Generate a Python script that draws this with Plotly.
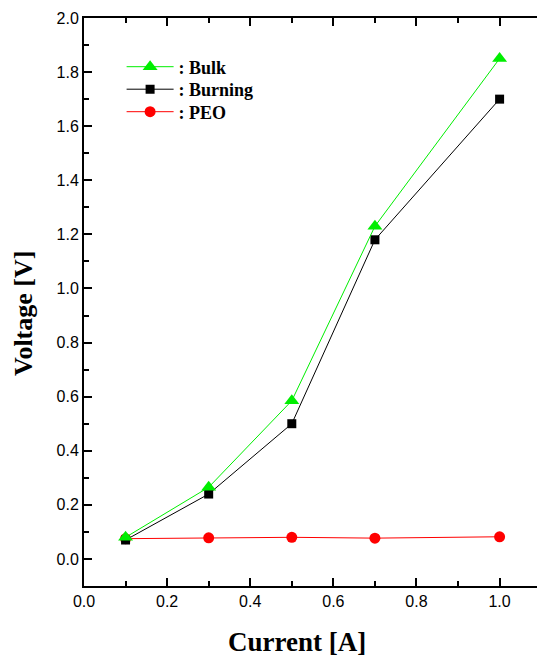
import plotly.graph_objects as go

current = [0.1, 0.3, 0.5, 0.7, 1.0]
bulk = [0.08, 0.265, 0.585, 1.23, 1.85]
burning = [0.07, 0.24, 0.50, 1.18, 1.70]
peo = [0.075, 0.078, 0.080, 0.077, 0.082]

fig = go.Figure()
fig.add_trace(go.Scatter(x=current, y=peo, name=": PEO", mode="lines+markers", legend="legend3",
                         line=dict(color="#ff0000", width=1),
                         marker=dict(symbol="circle", size=11, color="#ff0000")))
fig.add_trace(go.Scatter(x=current, y=burning, name=": Burning", mode="lines+markers", legend="legend2",
                         line=dict(color="#000000", width=1),
                         marker=dict(symbol="square", size=9, color="#000000")))
fig.add_trace(go.Scatter(x=current, y=bulk, name=": Bulk", mode="lines+markers", legend="legend",
                         line=dict(color="#00ee00", width=1),
                         marker=dict(symbol="triangle-up", size=13, color="#00ee00")))

tickfont = dict(family="Liberation Sans, Arial", size=16, color="#000")
fig.update_xaxes(range=[0, 1.09], dtick=0.2, tick0=0, tickformat=".1f",
                 showline=True, linecolor="#000", linewidth=2, mirror="ticks",
                 ticks="inside", ticklen=8, tickwidth=1.5, tickcolor="#000",
                 minor=dict(ticks="inside", ticklen=5, dtick=0.1, tickcolor="#000", tickwidth=1.5),
                 showgrid=False, zeroline=False, tickfont=tickfont)
fig.update_yaxes(range=[-0.1, 2.0], dtick=0.2, tick0=0, tickformat=".1f",
                 showline=True, linecolor="#000", linewidth=2, mirror=False,
                 ticks="inside", ticklen=8, tickwidth=1.5, tickcolor="#000",
                 minor=dict(ticks="inside", ticklen=5, dtick=0.1, tickcolor="#000", tickwidth=1.5),
                 showgrid=False, zeroline=False, tickfont=tickfont)

fig.add_annotation(text="<b>Current [A]</b>", xref="paper", yref="paper",
                   x=(297 - 84) / 453, y=-(642 - 586) / 568, xanchor="center", yanchor="middle",
                   showarrow=False, font=dict(family="Liberation Serif, Times New Roman", size=27, color="#000"))
fig.add_annotation(text="<b>Voltage [V]</b>", xref="paper", yref="paper",
                   x=-(84 - 24) / 453, y=(586 - 313) / 568, xanchor="center", yanchor="middle",
                   textangle=-90, showarrow=False,
                   font=dict(family="Liberation Serif, Times New Roman", size=26, color="#000"))

legfont = dict(family="Liberation Serif, Times New Roman", size=18, color="#000", weight="bold")
def leg(ypix):
    return dict(x=0.083, y=(586 - ypix) / 568, xanchor="left", yanchor="middle",
                bgcolor="rgba(0,0,0,0)", font=legfont, itemwidth=47)

fig.update_layout(
    width=537, height=657,
    margin=dict(l=84, r=0, t=18, b=71),
    plot_bgcolor="white", paper_bgcolor="white",
    showlegend=True,
    legend=leg(67), legend2=leg(89.5), legend3=leg(112),
)

fig.write_html("out.html", config={"displayModeBar": False},
               post_script="document.body.style.margin='0';document.body.style.overflow='hidden';"
                           "document.documentElement.style.overflow='hidden';")
